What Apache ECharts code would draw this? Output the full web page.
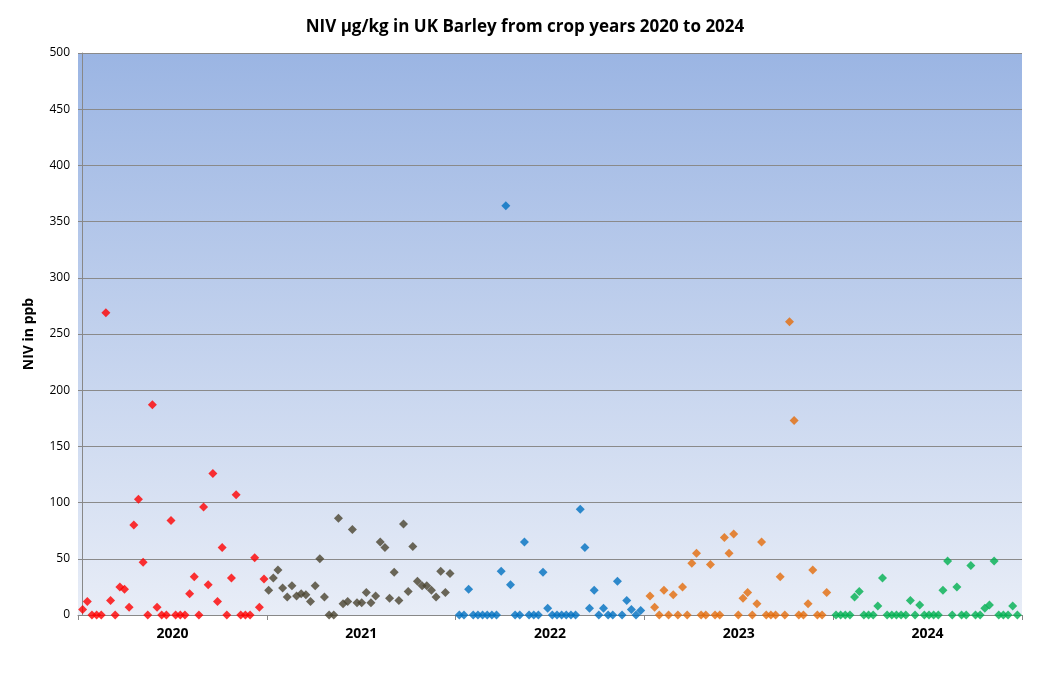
<html>
  <head>
    <meta charset="UTF-8" />
    <script src="https://cdn.jsdelivr.net/npm/echarts@6/dist/echarts.min.js"></script>
    <title>NIV in UK Barley</title>
    <style>
      body { margin: 0; background: #fff; }
      #main { width: 1050px; height: 686px; }
    </style>
  </head>
  <body>
    <div id="main"></div>
    <script>
      // year labels on the x axis
      const years = ['2020', '2021', '2022', '2023', '2024'];
      // NIV results (ppb) per crop year, in sample order
      const niv2020 = [5, 12, 0, 0, 0, 269, 13, 0, 25, 23, 7, 80, 103, 47, 0, 187, 7, 0, 0, 84,
        0, 0, 0, 19, 34, 0, 96, 27, 126, 12, 60, 0, 33, 107, 0, 0, 0, 51, 7, 32];
      const niv2021 = [22, 33, 40, 24, 16, 26, 17, 19, 18, 12, 26, 50, 16, 0, 0, 86, 10, 12, 76, 11,
        11, 20, 11, 17, 65, 60, 15, 38, 13, 81, 21, 61, 30, 26, 26, 22, 16, 39, 20, 37];
      const niv2022 = [0, 0, 23, 0, 0, 0, 0, 0, 0, 39, 364, 27, 0, 0, 65, 0, 0, 0, 38, 6,
        0, 0, 0, 0, 0, 0, 94, 60, 6, 22, 0, 6, 0, 0, 30, 0, 13, 5, 0, 4];
      const niv2023 = [17, 7, 0, 22, 0, 18, 0, 25, 0, 46, 55, 0, 0, 45, 0, 0, 69, 55, 72, 0,
        15, 20, 0, 10, 65, 0, 0, 0, 34, 0, 261, 173, 0, 0, 10, 40, 0, 0, 20];
      const niv2024 = [0, 0, 0, 0, 16, 21, 0, 0, 0, 8, 33, 0, 0, 0, 0, 0, 13, 0, 9, 0,
        0, 0, 0, 22, 48, 0, 25, 0, 0, 44, 0, 0, 6, 9, 48, 0, 0, 0, 8, 0];
      // first sample number of each year (small gaps between years)
      const starts = [0, 40, 81, 122, 162];
      const colors = ['#ff0000', '#4a4430', '#0070c0', '#e46c0a', '#00b050'];

      const sets = [niv2020, niv2021, niv2022, niv2023, niv2024];
      const series = sets.map(function (vals, k) {
        return {
          name: years[k],
          type: 'scatter',
          xAxisIndex: 0,
          symbol: 'diamond',
          symbolSize: 9,
          itemStyle: { color: colors[k] },
          data: vals.map(function (v, i) { return [starts[k] + i, v]; })
        };
      });

      const chart = echarts.init(document.getElementById('main'));
      chart.setOption({
        animation: false,
        title: {
          text: 'NIV µg/kg in UK Barley from crop years 2020 to 2024',
          left: 'center', top: 14,
          textStyle: { fontFamily: 'Open Sans', fontSize: 17, fontWeight: 'bold', color: '#000' }
        },
        grid: {
          left: 78, right: 28, top: 53, bottom: 71,
          show: true, borderWidth: 0,
          backgroundColor: new echarts.graphic.LinearGradient(0, 0, 0, 1, [
            { offset: 0, color: '#9bb5e3' },
            { offset: 1, color: '#e8edf7' }
          ])
        },
        xAxis: [
          { type: 'value', min: -1, max: 202, show: false },
          {
            type: 'category', data: years, position: 'bottom',
            axisLine: { lineStyle: { color: '#888' } },
            axisTick: { show: true, lineStyle: { color: '#888' } },
            axisLabel: { fontFamily: 'Open Sans', fontWeight: 'bold', fontSize: 14, color: '#000', margin: 12 }
          }
        ],
        yAxis: {
          type: 'value', min: 0, max: 500, interval: 50,
          name: 'NIV in ppb', nameLocation: 'middle', nameGap: 42,
          nameTextStyle: { fontFamily: 'Open Sans', fontWeight: 'bold', fontSize: 14, color: '#000' },
          axisLine: { show: true, lineStyle: { color: '#888' } },
          axisTick: { show: true, length: 4, lineStyle: { color: '#888' } },
          axisLabel: { fontFamily: 'Open Sans', fontSize: 12, color: '#000' },
          splitLine: { lineStyle: { color: '#8a8a8a', width: 1 } }
        },
        series: series
      });
    </script>
  </body>
</html>
